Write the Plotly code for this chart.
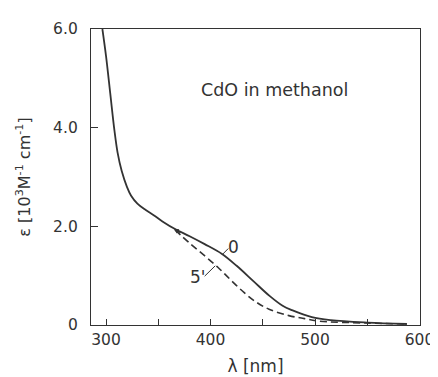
import plotly.graph_objects as go

# Solid curve (0 min)
lam_0 = [296.5, 300, 304, 308, 311, 315, 320, 324, 330, 338, 346, 354, 366.5, 380, 394.4, 411, 425, 441, 456.5, 469, 478, 497, 515, 550, 588]
eps_0 = [6.0, 5.45, 4.7, 3.95, 3.5, 3.12, 2.8, 2.62, 2.46, 2.33, 2.22, 2.1, 1.94, 1.8, 1.64, 1.44, 1.2, 0.89, 0.59, 0.39, 0.30, 0.16, 0.10, 0.05, 0.02]

# Dashed curve (5 min)
lam_5 = [366, 380, 394, 407, 419, 432, 444, 456, 475, 490, 503, 550, 588]
eps_5 = [1.93, 1.66, 1.41, 1.17, 0.92, 0.66, 0.46, 0.32, 0.19, 0.13, 0.08, 0.04, 0.02]

x_ticks = [300, 350, 400, 450, 500, 550, 600]
x_ticktext = ["300", "", "400", "", "500", "", "600"]
y_ticks = [0, 2, 4, 6]
y_ticktext = ["0", "2.0", "4.0", "6.0"]

FONT = "DejaVu Sans"
INK = "#333333"

fig = go.Figure()
fig.add_trace(go.Scatter(x=lam_0, y=eps_0, mode="lines",
                         line=dict(color=INK, width=1.8, shape="spline", smoothing=1.0),
                         showlegend=False, hoverinfo="skip"))
fig.add_trace(go.Scatter(x=lam_5, y=eps_5, mode="lines",
                         line=dict(color=INK, width=1.6, dash="7px,4px", shape="spline", smoothing=1.0),
                         showlegend=False, hoverinfo="skip"))

fig.add_annotation(x=461, y=4.77, text="CdO in methanol", showarrow=False,
                   font=dict(family=FONT, size=17.5, color=INK))
# curve labels
fig.add_annotation(x=422, y=1.58, text="0", showarrow=False,
                   font=dict(family=FONT, size=17, color=INK))
fig.add_annotation(x=388, y=0.97, text="5'", showarrow=False,
                   font=dict(family=FONT, size=17, color=INK))
# leader lines
fig.add_shape(type="line", x0=411.4, y0=1.43, x1=417, y1=1.55,
              line=dict(color=INK, width=1))
fig.add_shape(type="line", x0=394.4, y0=0.99, x1=404.5, y1=1.2,
              line=dict(color=INK, width=1))
# small arrow mark where the curves separate
fig.add_annotation(x=365, y=1.95, text="", showarrow=True, arrowhead=2, arrowsize=0.8,
                   arrowwidth=1.2, arrowcolor=INK, ax=8, ay=5, standoff=0)

fig.update_layout(
    width=438, height=377,
    margin=dict(l=83, r=17, t=17, b=57),
    paper_bgcolor="white", plot_bgcolor="white",
    font=dict(family=FONT, size=15, color=INK),
    xaxis=dict(range=[285.6, 600.5], tickvals=x_ticks, ticktext=x_ticktext,
               ticks="inside", ticklen=6, tickcolor=INK, tickwidth=1,
               showline=True, linecolor=INK, linewidth=1.3, mirror=True,
               showgrid=False, zeroline=False,
               tickfont=dict(family=FONT, size=15.5, color=INK),
               title=dict(text="λ [nm]", font=dict(family=FONT, size=17, color=INK), standoff=12)),
    yaxis=dict(range=[0, 6], tickvals=y_ticks, ticktext=y_ticktext,
               ticks="inside", ticklen=7, tickcolor=INK, tickwidth=1,
               showline=True, linecolor=INK, linewidth=1.3, mirror=True,
               showgrid=False, zeroline=False, ticklabelstandoff=9,
               tickfont=dict(family=FONT, size=15.5, color=INK),
               title=dict(text="ε [10<sup>3</sup>M<sup>-1</sup> cm<sup>-1</sup>]",
                          font=dict(family=FONT, size=16, color=INK), standoff=18)),
)

fig.write_html("out.html")
